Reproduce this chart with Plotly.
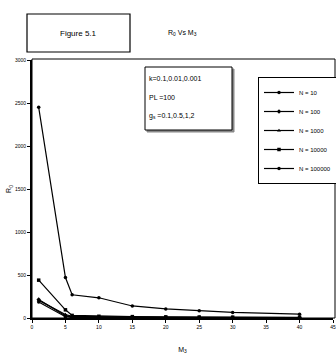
import plotly.graph_objects as go

M3 = [1, 5, 6, 10, 15, 20, 25, 30, 40]
N10 = [185, 15, 8, 6, 5, 4, 3, 3, 2]
N100 = [215, 25, 12, 9, 7, 6, 5, 4, 4]
N1000 = [205, 40, 18, 12, 10, 8, 7, 6, 5]
N10000 = [440, 95, 30, 20, 16, 13, 11, 10, 9]
N100000 = [2450, 470, 270, 235, 140, 105, 85, 65, 45]

series = [
    ("N = 10", N10, "circle"),
    ("N = 100", N100, "diamond"),
    ("N = 1000", N1000, "triangle-up"),
    ("N = 10000", N10000, "square"),
    ("N = 100000", N100000, "circle"),
]

y_ticks = [0, 500, 1000, 1500, 2000, 2500, 3000]
x_ticks = [0, 5, 10, 15, 20, 25, 30, 35, 40, 45]

fig = go.Figure()
for name, ys, sym in series:
    fig.add_trace(go.Scatter(
        x=M3, y=ys, name=name, mode="lines+markers",
        line=dict(color="black", width=1.2),
        marker=dict(symbol=sym, size=3.5, color="black"),
    ))

W, H = 336, 354
L, R, T, B = 32, 3, 60, 36
pw, ph = W - L - R, H - T - B

def px(x):
    return (x - L) / pw

def py(y):
    return (H - B - y) / ph

font = "Liberation Sans, Arial, sans-serif"

def note(text, x, y, size=7, xanchor="left"):
    return dict(text=text, xref="paper", yref="paper", x=px(x), y=py(y),
                xanchor=xanchor, yanchor="middle", showarrow=False,
                font=dict(size=size, family=font))

fig.update_layout(
    width=W, height=H,
    margin=dict(l=L, r=R, t=T, b=B, autoexpand=False),
    paper_bgcolor="white", plot_bgcolor="white",
    font=dict(family=font, color="black", size=6),
    showlegend=True,
    legend=dict(
        x=px(258), y=py(77), xanchor="left", yanchor="top",
        bordercolor="black", borderwidth=1, bgcolor="white",
        font=dict(size=6, family=font), itemwidth=30,
        tracegroupgap=0,
    ),
    xaxis=dict(
        range=[0, 45], tickvals=x_ticks, ticktext=[str(v) for v in x_ticks],
        showgrid=False, zeroline=False, showline=True, linecolor="black", linewidth=2,
        ticks="outside", ticklen=3, tickcolor="black", tickfont=dict(size=5),
        title=dict(text="M<sub>3</sub>", font=dict(size=7), standoff=18),
        automargin=False,
    ),
    yaxis=dict(
        range=[0, 3000], tickvals=y_ticks, ticktext=[str(v) for v in y_ticks],
        showgrid=False, zeroline=False, showline=True, linecolor="black", linewidth=2,
        ticks="outside", ticklen=3, tickcolor="black", tickfont=dict(size=5),
        title=dict(text="R<sub>0</sub>", font=dict(size=7), standoff=2),
        automargin=False,
    ),
    shapes=[
        dict(type="rect", xref="paper", yref="paper", x0=0, x1=px(335), y0=0, y1=py(59),
             line=dict(color="black", width=1), layer="below"),
        dict(type="rect", xref="paper", yref="paper", x0=px(27), x1=px(130), y0=py(52), y1=py(14),
             line=dict(color="black", width=1.2), fillcolor="white"),
        dict(type="rect", xref="paper", yref="paper", x0=px(147), x1=px(234), y0=py(132), y1=py(69),
             line=dict(color="#888", width=1), fillcolor="#888"),
        dict(type="rect", xref="paper", yref="paper", x0=px(145), x1=px(232), y0=py(130), y1=py(67),
             line=dict(color="black", width=1), fillcolor="white"),
    ],
    annotations=[
        note("Figure 5.1", 78, 33, size=8, xanchor="center"),
        note("R<sub>0</sub> Vs M<sub>3</sub>", 182, 33, xanchor="center"),
        note("k=0.1,0.01,0.001", 147, 78),
        note("PL =100", 147, 97),
        note("g<sub>s</sub> =0.1,0.5,1,2", 147, 116),
    ],
)

fig.write_html("out.html", config={"displayModeBar": False},
               post_script="document.body.style.margin='0';document.body.style.overflow='hidden';")
